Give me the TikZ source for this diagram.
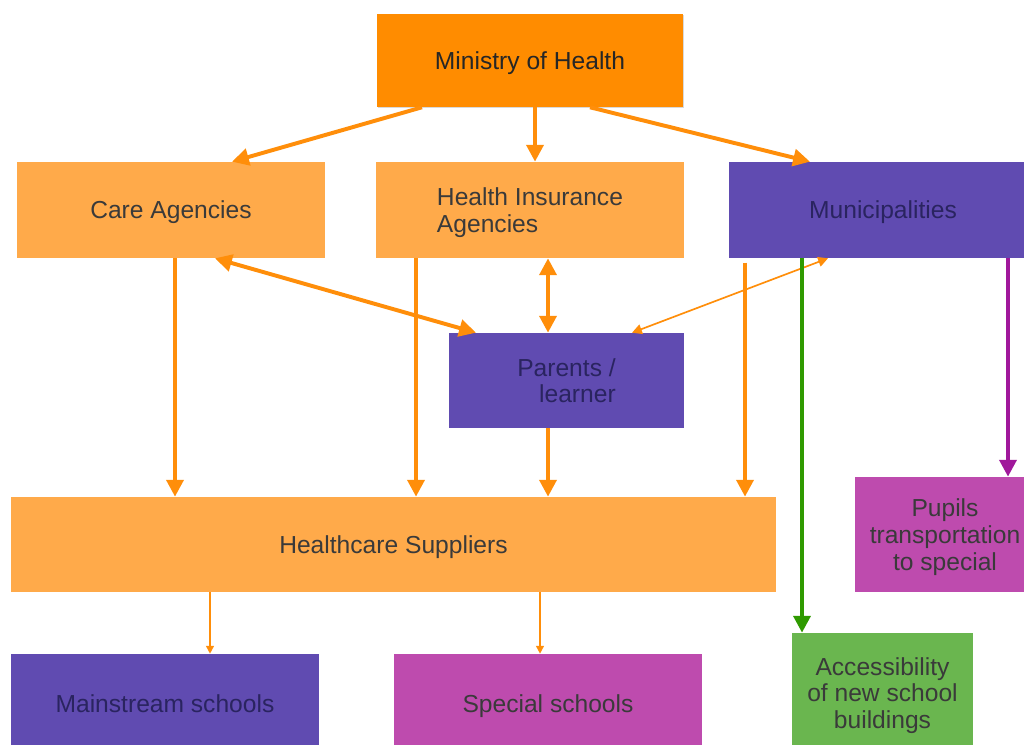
\documentclass[tikz,border=0pt]{standalone}
\usepackage{fontspec}
\setmainfont{Liberation Sans}
\usepackage{tikz}
\usetikzlibrary{arrows.meta,shadows}
\definecolor{mohc}{HTML}{FF8C00}
\definecolor{lorange}{HTML}{FFAA4A}
\definecolor{purp}{HTML}{604BB1}
\definecolor{magn}{HTML}{BE4BAE}
\definecolor{grn}{HTML}{6AB64F}
\definecolor{arrc}{HTML}{FF8E0A}
\definecolor{garr}{HTML}{2F9A00}
\definecolor{marr}{HTML}{A0189B}
\definecolor{txtd}{HTML}{3A3A3A}
\definecolor{txtp}{HTML}{2A2460}

\begin{document}
\begin{tikzpicture}[x=0.025cm,y=-0.025cm,
    box/.style={rectangle,inner sep=0pt,text depth=0pt,text=txtd,font=\fontsize{17.5}{19}\selectfont},
    obox/.style={box,fill=lorange,minimum width=7.7cm,minimum height=2.4cm},
    pbox/.style={box,fill=purp,text=txtp},
    arr/.style={draw=arrc,line width=2.8pt,-{Triangle[length=12pt,width=12pt]}},
    dbl/.style={arr,{Triangle[length=12pt,width=12pt]}-{Triangle[length=12pt,width=12pt]}},
    dblthin/.style={draw=arrc,line width=1.2pt,{Triangle[length=7pt,width=7pt]}-{Triangle[length=7pt,width=7pt]}},
    thinarr/.style={draw=arrc,line width=1pt,-{Triangle[length=5.5pt,width=5.5pt]}}]
    \useasboundingbox(0,0)rectangle(1024,744);
    \clip(0,0)rectangle(1024,744);

    % boxes
    \node[box,fill=mohc,text=black!85,minimum width=7.65cm,minimum height=2.325cm,
      drop shadow={opacity=0.3,shadow xshift=0.6pt,shadow yshift=-1pt}](moh)at(530,60.5){Ministry of Health};
    \node[obox](care)at(171,210){Care Agencies};
    \node[obox,align=left](hia)at(530,210){Health Insurance\\Agencies};
    \node[pbox,minimum width=7.7cm,minimum height=2.4cm](mun)at(883,210){Municipalities};
    \node[pbox,align=right,minimum width=5.875cm,minimum height=2.375cm](par)at(566.5,380.5){Parents /\\learner};
    \node[box,fill=lorange,minimum width=19.125cm,minimum height=2.375cm](hs)at(393.5,544.5){Healthcare Suppliers};
    \node[box,fill=magn,align=center,minimum width=4.5cm,minimum height=2.875cm](pup)at(945,534.5){Pupils\\transportation\\to special};
    \node[box,fill=grn,align=center,minimum width=4.525cm,minimum height=3cm](acc)at(882.5,693){Accessibility\\of new school\\buildings};
    \node[pbox,minimum width=7.7cm,minimum height=2.5cm](main)at(165,704){Mainstream schools};
    \node[box,fill=magn,minimum width=7.7cm,minimum height=2.5cm](spec)at(548,704){Special schools};

    % connectors
    \draw[arr](moh.south -| 422,0)--(care.north -| 232,0);
    \draw[arr](moh.south -| 535,0)--(hia.north -| 535,0);
    \draw[arr](moh.south -| 590,0)--(mun.north -| 810,0);
    \draw[arr](care.south -| 175,0)--(hs.north -| 175,0);
    \draw[dbl](care.south -| 215,0)--(par.north -| 476,0);
    \draw[arr](hia.south -| 416,0)--(hs.north -| 416,0);
    \draw[dbl](hia.south -| 548,0)--(par.north -| 548,0);
    \draw[arr,shorten <=3pt](mun.south -| 745,0)--(hs.north -| 745,0);
    \draw[dblthin](par.north -| 632,0)--(mun.south -| 828,0);
    \draw[arr](par.south -| 548,0)--(hs.north -| 548,0);
    \draw[arr,draw=garr](mun.south -| 802,0)--(acc.north -| 802,0);
    \draw[arr,draw=marr](mun.south -| 1008,0)--(pup.north -| 1008,0);
    \draw[thinarr](hs.south -| 210,0)--(main.north -| 210,0);
    \draw[thinarr](hs.south -| 540,0)--(spec.north -| 540,0);
\end{tikzpicture}
\end{document}
